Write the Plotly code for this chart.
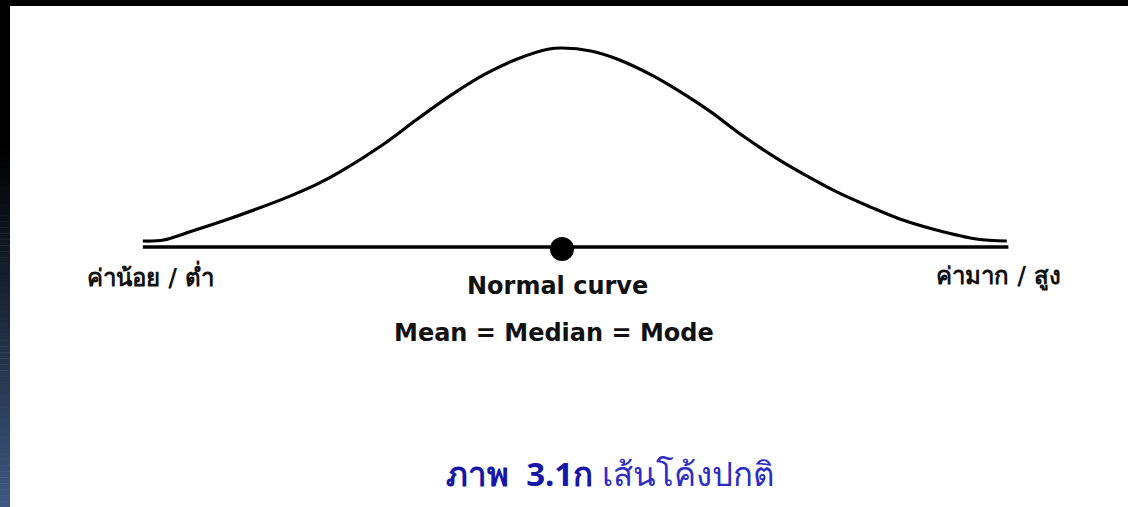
import plotly.graph_objects as go

# Normal curve: standard score (z) against density height
curve_z = [-2.62, -2.49, -2.33, -2.12, -1.91, -1.70, -1.53, -1.39, -1.12, -0.91,
           -0.70, -0.49, -0.28, -0.08, 0.00, 0.18, 0.36, 0.57, 0.78, 0.93,
           1.13, 1.36, 1.51, 1.72, 1.93, 2.13, 2.34, 2.59, 2.78]
curve_density = [0.012, 0.014, 0.030, 0.052, 0.076, 0.102, 0.126, 0.150, 0.205, 0.255,
                 0.303, 0.345, 0.377, 0.397, 0.399, 0.393, 0.375, 0.343, 0.303, 0.271,
                 0.223, 0.174, 0.146, 0.110, 0.080, 0.054, 0.034, 0.016, 0.012]

# Horizontal scale line and the common centre point
axis_z = [-2.62, 2.79]
centre_z = 0.0

low_label = "ค่าน้อย / ต่ำ"
high_label = "ค่ามาก / สูง"
curve_name = "Normal curve"
centre_label = "Mean = Median = Mode"
fig_number = "ภาพ  3.1ก"
fig_title = "เส้นโค้งปกติ"

fig = go.Figure()

fig.add_trace(go.Scatter(
    x=axis_z, y=[0, 0], mode="lines",
    line=dict(color="#000000", width=3.5),
    hoverinfo="skip", showlegend=False,
))
fig.add_trace(go.Scatter(
    x=curve_z, y=curve_density, mode="lines",
    line=dict(color="#000000", width=3.2, shape="spline", smoothing=1.0),
    hoverinfo="skip", showlegend=False,
))
fig.add_trace(go.Scatter(
    x=[centre_z], y=[-0.004], mode="markers",
    marker=dict(color="#000000", size=24),
    hoverinfo="skip", showlegend=False,
))

sans = "DejaVu Sans, Verdana, sans-serif"
fig.add_annotation(x=-2.569, y=-0.058, text=f"<b>{low_label}</b>", showarrow=False,
                   font=dict(family=sans, size=24, color="#111111"),
                   xanchor="center", yanchor="middle")
fig.add_annotation(x=2.725, y=-0.060, text=f"<b>{high_label}</b>", showarrow=False,
                   font=dict(family=sans, size=24, color="#111111"),
                   xanchor="center", yanchor="middle")
fig.add_annotation(x=-0.031, y=-0.078, text=f"<b>{curve_name}</b>", showarrow=False,
                   font=dict(family=sans, size=24, color="#111111"),
                   xanchor="center", yanchor="middle")
fig.add_annotation(x=-0.050, y=-0.172, text=f"<b>{centre_label}</b>", showarrow=False,
                   font=dict(family=sans, size=24, color="#111111"),
                   xanchor="center", yanchor="middle")

# Figure caption
fig.add_annotation(
    x=0.541, y=0.067, xref="paper", yref="paper", showarrow=False,
    xanchor="center", yanchor="middle",
    text=(f"<span style='color:#1616a8'><b>{fig_number}</b></span> "
          f"<span style='color:#2c2cc8'>{fig_title}</span>"),
    font=dict(family="Noto Sans, DejaVu Sans, sans-serif", size=33),
)

# Dark frame: thin black band on top, left band fading from black to slate blue
W, H = 1128, 507
shapes = [dict(type="rect", xref="paper", yref="paper",
               x0=0, x1=1, y0=1 - 6 / H, y1=1,
               fillcolor="#000000", line=dict(width=0), layer="above")]
fade_start, steps = 150, 60
shapes.append(dict(type="rect", xref="paper", yref="paper",
                   x0=0, x1=10 / W, y0=1 - fade_start / H, y1=1,
                   fillcolor="#000000", line=dict(width=0), layer="above"))
top_rgb, bottom_rgb = (0, 0, 0), (62, 88, 130)
for i in range(steps):
    t0 = fade_start + (H - fade_start) * i / steps
    t1 = fade_start + (H - fade_start) * (i + 1) / steps
    f = (i + 0.5) / steps
    col = tuple(round(a + (b - a) * f) for a, b in zip(top_rgb, bottom_rgb))
    shapes.append(dict(type="rect", xref="paper", yref="paper",
                       x0=0, x1=10 / W, y0=1 - t1 / H - 0.001, y1=1 - t0 / H,
                       fillcolor=f"rgb{col}", line=dict(width=0), layer="above"))

fig.update_layout(
    width=W, height=H,
    margin=dict(l=0, r=0, t=0, b=0),
    paper_bgcolor="#ffffff", plot_bgcolor="#ffffff",
    xaxis=dict(range=[-3.5125, 3.5375], visible=False, fixedrange=True),
    yaxis=dict(range=[-0.5214, 0.4953], visible=False, fixedrange=True),
    shapes=shapes,
    showlegend=False,
)

fig.write_html("out.html")
